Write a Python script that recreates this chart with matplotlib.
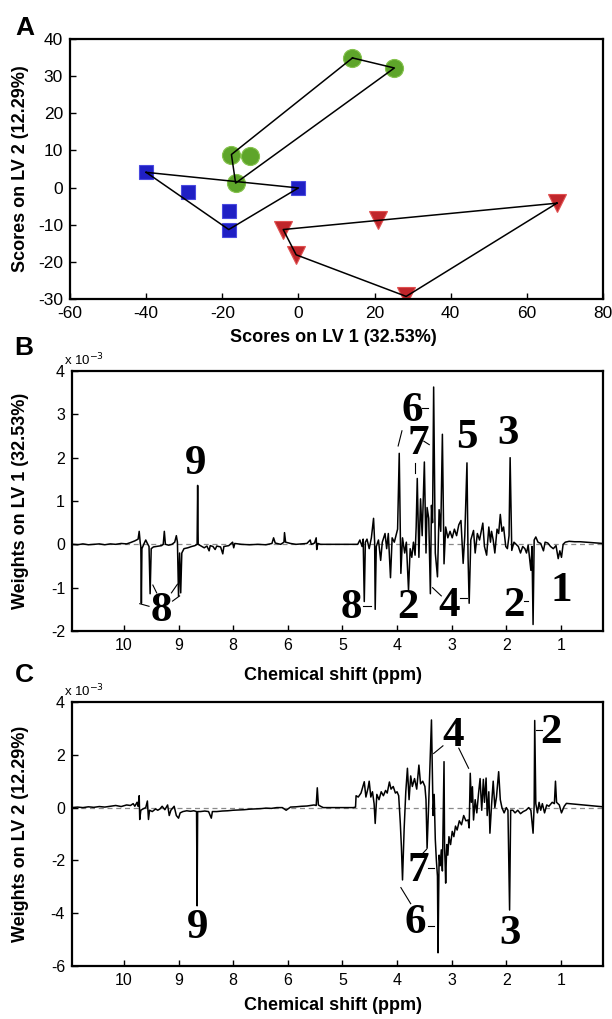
import matplotlib
matplotlib.use("Agg")
import matplotlib.pyplot as plt
import numpy as np

plt.rcParams["font.family"] = ["Liberation Sans", "DejaVu Sans"]
plt.rcParams["axes.unicode_minus"] = False

# ---- panel A: PLS-DA scores ----
green_x = [14.2, 25.2, -16.5, -17.6, -12.6]
green_y = [34.9, 32.2, 1.2, 8.9, 8.6]
green_hull = [0, 1, 2, 3, 0]

blue_x = [-40.0, 0.0, -18.3, -28.9, -18.3]
blue_y = [4.1, -0.1, -11.3, -1.3, -6.4]
blue_hull = [0, 1, 2, 0]

red_x = [67.9, -4.0, -0.6, 28.3, 20.8]
red_y = [-4.2, -11.3, -18.1, -29.3, -8.7]
red_hull = [0, 1, 2, 3, 0]

# ---- panels B/C: loadings (weights in units of 1e-3) ----
shift_ticks = [9, 8, 7, 6, 5, 4, 3, 2, 1]
shift_labels = ["10", "9", "8", "6", "5", "4", "3", "2", "1"]

b_shift = [9.95, 9.85, 9.75, 9.65, 9.55, 9.45, 9.35, 9.25, 9.15, 9.05, 8.95, 8.88, 8.80, 8.74, 8.72,
           8.70, 8.69, 8.68, 8.67, 8.63, 8.60, 8.57, 8.54, 8.52, 8.50, 8.46, 8.41, 8.36, 8.31, 8.28,
           8.26, 8.24, 8.18, 8.12, 8.07, 8.04, 8.02, 8.00, 7.98, 7.96, 7.94, 7.90, 7.83, 7.76, 7.70,
           7.66, 7.65, 7.64, 7.60, 7.53, 7.48, 7.44, 7.42, 7.37, 7.33, 7.30, 7.23, 7.19, 7.17, 7.08,
           7.01, 6.99, 6.97, 6.85, 6.70, 6.55, 6.40, 6.29, 6.26, 6.23, 6.13, 6.07, 6.06, 6.04, 5.95,
           5.85, 5.75, 5.65, 5.59, 5.57, 5.51, 5.48, 5.47, 5.45, 5.40, 5.30, 4.72, 4.68, 4.64, 4.62,
           4.60, 4.58, 4.55, 4.51, 4.47, 4.43, 4.41, 4.40, 4.38, 4.34, 4.30, 4.27, 4.22, 4.19, 4.16,
           4.12, 4.09, 4.05, 4.02, 3.99, 3.96, 3.93, 3.90, 3.86, 3.83, 3.79, 3.76, 3.73, 3.70, 3.67,
           3.65, 3.63, 3.60, 3.57, 3.54, 3.50, 3.47, 3.45, 3.42, 3.39, 3.37, 3.35, 3.33, 3.30, 3.26,
           3.23, 3.20, 3.17, 3.14, 3.11, 3.07, 3.03, 2.99, 2.95, 2.91, 2.87, 2.83, 2.79, 2.76, 2.72,
           2.70, 2.68, 2.65, 2.60, 2.57, 2.53, 2.49, 2.43, 2.40, 2.36, 2.32, 2.29, 2.27, 2.24, 2.21,
           2.17, 2.14, 2.11, 2.08, 2.05, 2.01, 1.98, 1.95, 1.93, 1.90, 1.86, 1.82, 1.78, 1.74, 1.70,
           1.66, 1.63, 1.60, 1.55, 1.53, 1.51, 1.49, 1.46, 1.42, 1.37, 1.32, 1.29, 1.24, 1.19, 1.14,
           1.09, 1.05, 1.02, 0.99, 0.96, 0.92, 0.85, 0.75, 0.65, 0.55, 0.45, 0.35, 0.23]
b_weight = [0.00, -0.01, 0.01, -0.01, 0.00, 0.01, -0.01, 0.01, 0.00, 0.02, 0.01, 0.04, 0.08, 0.12, 0.30,
            0.02, -0.05, -1.36, -0.10, 0.02, 0.10, 0.02, -0.05, -1.14, -0.10, -0.06, -0.05, -0.04, -0.03, 0.00,
            0.30, 0.00, -0.02, 0.00, 0.05, 0.20, 0.05, -1.20, -0.20, -1.12, -0.20, -0.10, -0.08, -0.05, -0.03,
            0.00, 1.36, 0.00, -0.03, -0.08, -0.04, -0.15, -0.03, -0.05, -0.12, -0.04, -0.06, -0.22, -0.05, -0.03,
            0.05, -0.08, 0.02, 0.00, -0.01, 0.00, -0.01, 0.02, 0.15, 0.03, 0.00, 0.05, 0.27, 0.05, 0.02,
            0.00, 0.01, 0.02, 0.10, 0.00, 0.03, 0.15, -0.12, 0.02, 0.00, 0.00, 0.00, 0.10, -0.05, 0.12,
            -1.32, 0.05, 0.12, -0.10, 0.15, 0.60, 0.05, -1.50, -0.05, 0.10, -0.37, 0.05, 0.25, -0.10, 0.25,
            -0.77, 0.15, 0.05, 0.20, 0.35, 2.10, -0.67, 0.15, -0.20, 0.05, -1.06, -0.10, -0.30, 0.05, -0.25,
            0.40, 1.52, -0.30, 1.05, 0.20, 1.90, -0.20, 0.85, 0.60, -1.14, 0.90, 0.50, 3.63, -0.20, -0.75,
            0.80, 0.30, 2.54, -0.45, 0.40, 0.15, 0.30, 0.15, 0.35, 0.20, 0.45, 0.55, -0.44, 0.20, 1.88,
            -0.30, -1.36, 0.10, 0.32, -0.20, 0.25, 0.10, 0.49, -0.05, -0.25, 0.40, 0.05, 0.30, 0.10, -0.20,
            0.35, 0.25, 0.69, 0.30, 0.40, -0.05, -0.10, 0.20, 2.00, -0.14, 0.05, 0.00, -0.05, -0.20, -0.05,
            -0.10, -0.20, -0.02, -0.60, -0.05, -1.85, 0.10, 0.17, 0.05, 0.02, -0.15, 0.05, 0.03, -0.05, -0.10,
            -0.03, -0.33, -0.15, -0.30, 0.00, 0.05, 0.07, 0.06, 0.06, 0.05, 0.04, 0.03, 0.02]

c_shift = [9.95, 9.85, 9.75, 9.65, 9.55, 9.45, 9.35, 9.25, 9.15, 9.05, 8.95, 8.88, 8.83, 8.80, 8.76,
           8.74, 8.72, 8.71, 8.69, 8.65, 8.60, 8.57, 8.55, 8.53, 8.48, 8.42, 8.38, 8.34, 8.30, 8.25,
           8.20, 8.17, 8.14, 8.08, 8.04, 8.00, 7.97, 7.92, 7.85, 7.78, 7.72, 7.67, 7.66, 7.65, 7.60,
           7.52, 7.45, 7.40, 7.38, 7.30, 7.20, 7.10, 7.00, 6.90, 6.80, 6.70, 6.60, 6.50, 6.40, 6.30,
           6.20, 6.10, 6.03, 5.95, 5.85, 5.75, 5.65, 5.58, 5.52, 5.48, 5.46, 5.44, 5.40, 5.35, 4.80,
           4.76, 4.75, 4.71, 4.66, 4.60, 4.57, 4.53, 4.51, 4.48, 4.45, 4.42, 4.40, 4.37, 4.33, 4.29,
           4.25, 4.21, 4.18, 4.14, 4.11, 4.07, 4.03, 4.00, 3.97, 3.94, 3.92, 3.90, 3.87, 3.84, 3.81,
           3.78, 3.75, 3.72, 3.68, 3.64, 3.60, 3.57, 3.53, 3.49, 3.47, 3.45, 3.42, 3.37, 3.34, 3.32,
           3.30, 3.28, 3.26, 3.25, 3.23, 3.21, 3.19, 3.17, 3.14, 3.13, 3.12, 3.11, 3.09, 3.07, 3.05,
           3.02, 2.99, 2.96, 2.93, 2.90, 2.86, 2.82, 2.78, 2.74, 2.70, 2.68, 2.66, 2.64, 2.62, 2.60,
           2.57, 2.54, 2.51, 2.48, 2.45, 2.42, 2.40, 2.37, 2.35, 2.32, 2.30, 2.27, 2.24, 2.21, 2.18,
           2.14, 2.11, 2.08, 2.04, 2.00, 1.97, 1.94, 1.92, 1.88, 1.84, 1.79, 1.74, 1.69, 1.64, 1.59,
           1.55, 1.51, 1.49, 1.48, 1.46, 1.43, 1.40, 1.37, 1.34, 1.30, 1.26, 1.22, 1.16, 1.12, 1.10,
           1.08, 1.03, 0.99, 0.97, 0.94, 0.90, 0.80, 0.70, 0.60, 0.50, 0.40, 0.30, 0.23]
c_weight = [0.00, 0.02, 0.00, 0.03, 0.01, 0.04, 0.02, 0.05, 0.08, 0.04, 0.10, 0.08, 0.15, 0.05, 0.20,
            0.05, 0.45, -0.45, -0.10, -0.05, 0.00, 0.25, -0.45, -0.10, -0.15, -0.05, -0.10, -0.05, 0.05, -0.08,
            0.10, -0.30, -0.10, 0.05, -0.30, -0.40, -0.20, -0.15, -0.12, -0.14, -0.12, -0.15, -3.72, -0.15, -0.15,
            -0.13, -0.15, -0.40, -0.15, -0.15, -0.13, -0.12, -0.10, -0.09, -0.08, -0.06, -0.05, -0.04, -0.02, -0.03,
            0.00, 0.00, -0.10, 0.02, 0.03, 0.05, 0.06, 0.08, 0.10, 0.08, 0.75, 0.10, 0.05, 0.00, 0.00,
            0.02, 0.45, 0.40, 0.55, 0.98, 0.40, 0.75, 1.00, 0.40, 0.60, 0.15, -0.60, 0.50, 0.30, 0.60,
            0.45, 0.65, 0.55, 0.97, 0.70, 0.80, 0.55, 0.60, 0.45, -0.60, -1.50, -2.74, -0.80, 0.60, 1.49,
            0.30, 1.20, 0.80, 1.10, 0.70, 1.61, 0.90, 1.00, 0.80, 0.30, -1.54, 0.20, 3.32, -0.30, 0.50,
            -1.20, -2.00, -2.60, -5.50, -1.80, -2.20, -1.60, -2.40, 1.74, -1.50, -2.10, -2.86, -1.40, -1.80, -1.10,
            -1.40, -0.90, -1.10, -0.70, -0.85, -0.50, -0.65, -0.30, -0.50, -0.47, -0.77, 1.30, 0.20, 0.79, -0.47,
            0.30, -0.20, 0.50, 1.10, -0.10, 1.07, 0.20, 1.12, -0.30, 0.60, -0.97, 0.10, 1.00, 0.00, 0.40,
            1.36, 0.30, 0.00, -0.20, 0.00, -0.10, -3.88, -0.10, -0.10, -0.20, -0.10, -0.23, -0.15, -0.10, 0.00,
            -0.10, -0.97, 0.10, 3.30, 0.15, -0.20, 0.20, -0.10, 0.15, -0.20, 0.10, 0.05, 0.20, 0.15, 1.00,
            0.20, 0.10, -0.20, -0.10, 0.05, 0.16, 0.14, 0.12, 0.10, 0.08, 0.06, 0.04, 0.03]

# peak assignments (label, shift, weight) and their leader lines
b_notes = [("9", 7.68, 1.85), ("6", 3.73, 3.08), ("7", 3.62, 2.31), ("5", 2.72, 2.46),
           ("3", 1.97, 2.54), ("8", 8.31, -1.54), ("8", 4.84, -1.46), ("2", 3.80, -1.46),
           ("4", 3.05, -1.42), ("2", 1.86, -1.42), ("1", 1.00, -1.08)]
b_leaders = [(3.55, 3.14, 3.43, 3.14), (3.98, 2.27, 3.91, 2.62), (3.51, 2.38, 3.41, 2.30),
             (3.67, 1.88, 3.67, 1.65), (8.71, -1.37, 8.54, -1.43), (8.47, -0.94, 8.40, -1.12),
             (8.02, -0.92, 8.13, -1.12), (7.98, -1.19, 8.11, -1.31), (4.63, -1.42, 4.48, -1.42),
             (3.35, -1.00, 3.19, -1.19), (2.85, -1.23, 2.72, -1.23), (1.68, -1.31, 1.61, -1.31)]
c_notes = [("4", 2.98, 2.71), ("2", 1.18, 2.84), ("9", 7.65, -4.55), ("7", 3.62, -2.40),
           ("6", 3.66, -4.36), ("3", 1.93, -4.80)]
c_leaders = [(3.16, 2.34, 3.33, 2.05), (2.87, 2.25, 2.69, 1.49), (1.45, 2.94, 1.34, 2.94),
             (3.59, -1.87, 3.46, -1.58), (3.44, -2.30, 3.33, -2.30), (3.93, -3.03, 3.75, -3.64),
             (3.44, -4.48, 3.33, -4.48)]

W, H = 612, 1019
fig = plt.figure(figsize=(W / 100, H / 100), dpi=100)


def frac(px_left, px_top, px_right, px_bottom):
    return [px_left / W, 1 - px_bottom / H, (px_right - px_left) / W, (px_bottom - px_top) / H]


def style_axes(ax, size):
    for s in ax.spines.values():
        s.set_linewidth(1.6)
    ax.tick_params(direction="in", length=4, width=1, labelsize=size, pad=5)


label_font = dict(fontsize=13, fontweight="bold")
num_font = dict(family="Liberation Serif", fontsize=31, fontweight="bold", ha="center", va="center")

# ---------------- A ----------------
axA = fig.add_axes(frac(70, 39, 603, 299))
groups = [(green_x, green_y, green_hull, "o", "#5ea52a", "#86c34e", 13),
          (blue_x, blue_y, blue_hull, "s", "#1f1fc4", "#4a4ae0", 10.5),
          (red_x, red_y, red_hull, "v", "#c0262b", "#e05050", 13.5)]
for gx, gy, hull, mk, col, edge, ms in groups:
    axA.plot(gx, gy, linestyle="none", marker=mk, markersize=ms,
             markerfacecolor=col, markeredgecolor=edge, markeredgewidth=0.8, zorder=2)
for gx, gy, hull, mk, col, edge, ms in groups:
    axA.plot([gx[i] for i in hull], [gy[i] for i in hull], color="black", lw=1.1, zorder=3)
axA.set_xlim(-60, 80)
axA.set_ylim(-30, 40)
axA.set_xticks(np.arange(-60, 81, 20))
axA.set_yticks(np.arange(-30, 41, 10))
style_axes(axA, 12.5)
fig.text(333 / W, 1 - 338 / H, "Scores on LV 1 (32.53%)", ha="center", va="center", **label_font)
fig.text(21 / W, 1 - 169 / H, "Scores on LV 2 (12.29%)", ha="center", va="center", rotation=90, **label_font)
fig.text(25 / W, 1 - 28 / H, "A", ha="center", va="center", fontsize=19, fontweight="bold")


def spectrum(ax, shift, weight, notes, leaders, ylim, yticks):
    ax.axhline(0, color="#8a8a8a", lw=0.9, linestyle=(0, (4, 3)), zorder=1)
    ax.plot(shift, weight, color="black", lw=1.1, zorder=2)
    ax.set_xlim(9.95, 0.23)
    ax.set_ylim(*ylim)
    ax.set_xticks(shift_ticks)
    ax.set_xticklabels(shift_labels)
    ax.set_yticks(yticks)
    style_axes(ax, 11.5)
    for txt, x, y in notes:
        ax.text(x, y, txt, **num_font)
    for x1, y1, x2, y2 in leaders:
        ax.plot([x1, x2], [y1, y2], color="black", lw=0.8)
    ax.text(-0.015, 1.012, r"x 10$^{-3}$", transform=ax.transAxes, fontsize=9.5, va="bottom", ha="left")


# ---------------- B ----------------
axB = fig.add_axes(frac(72, 371, 603, 631))
spectrum(axB, b_shift, b_weight, b_notes, b_leaders, (-2, 4), np.arange(-2, 5, 1))
fig.text(333 / W, 1 - 675 / H, "Chemical shift (ppm)", ha="center", va="center", **label_font)
fig.text(21 / W, 1 - 501 / H, "Weights on LV 1 (32.53%)", ha="center", va="center", rotation=90, **label_font)
fig.text(24 / W, 1 - 348 / H, "B", ha="center", va="center", fontsize=19, fontweight="bold")

# ---------------- C ----------------
axC = fig.add_axes(frac(72, 702, 603, 966))
spectrum(axC, c_shift, c_weight, c_notes, c_leaders, (-6, 4), np.arange(-6, 5, 2))
fig.text(333 / W, 1 - 1006 / H, "Chemical shift (ppm)", ha="center", va="center", **label_font)
fig.text(21 / W, 1 - 834 / H, "Weights on LV 2 (12.29%)", ha="center", va="center", rotation=90, **label_font)
fig.text(24 / W, 1 - 675 / H, "C", ha="center", va="center", fontsize=19, fontweight="bold")

fig.savefig("out.png", dpi=100)
